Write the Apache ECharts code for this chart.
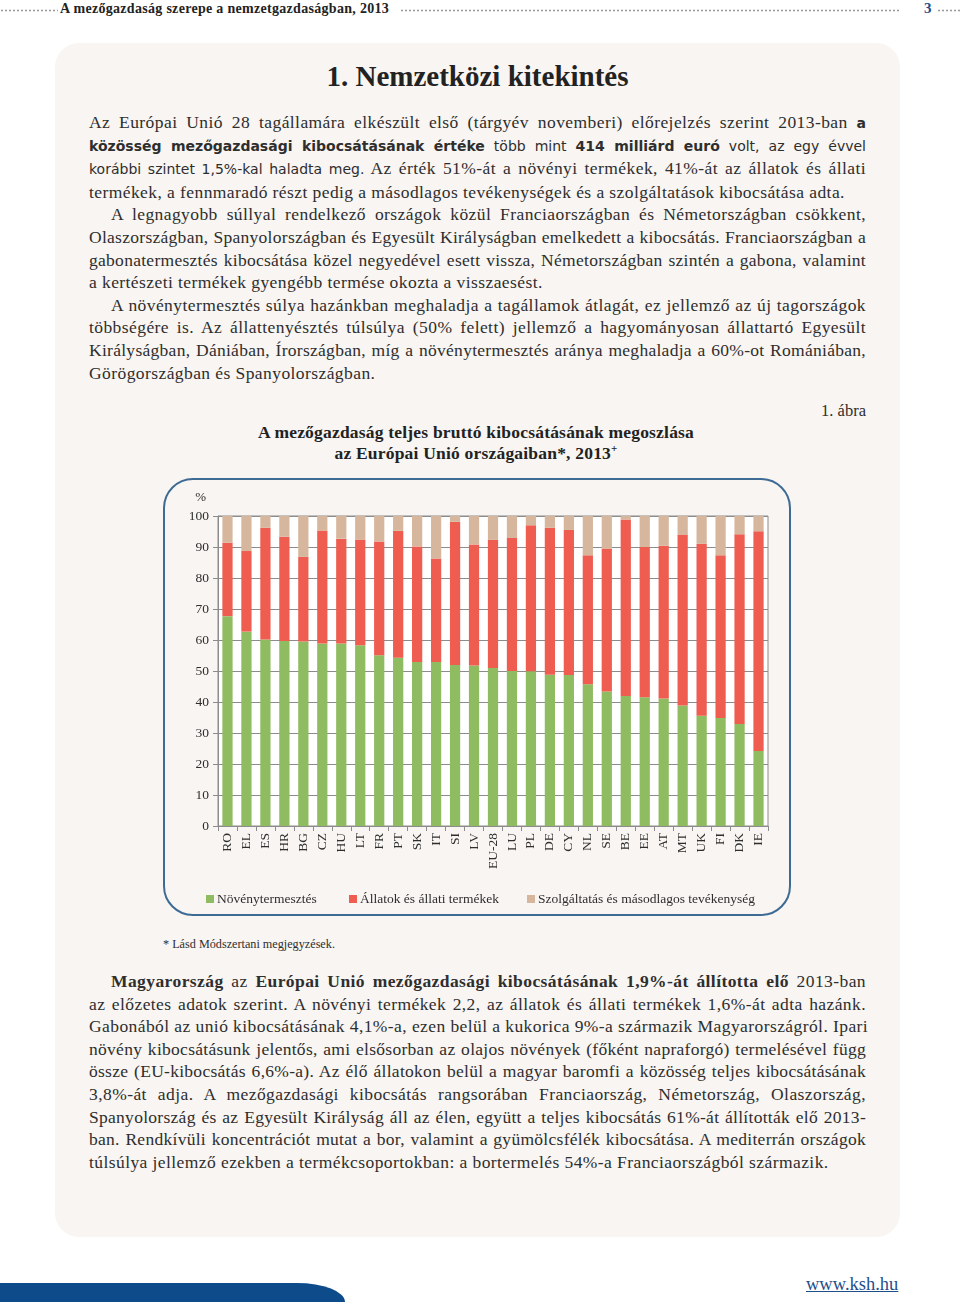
<!DOCTYPE html>
<html>
<head>
<meta charset="utf-8">
<script src="https://cdn.jsdelivr.net/npm/echarts@6/dist/echarts.min.js"></script>
<style>
  html,body{margin:0;padding:0;background:#fff;}
  body{width:960px;height:1308px;position:relative;overflow:hidden;font-family:"Liberation Serif",serif;color:#2e2e2e;}
  .abs{position:absolute;}
  .dots{position:absolute;height:3px;top:9px;background-image:radial-gradient(circle,#9a9a9a 0.9px,transparent 1.2px);background-size:4px 3px;background-repeat:repeat-x;}
  .card{position:absolute;left:55px;top:43px;width:845px;height:1194px;background:#f8f5f2;border-radius:24px;}
  .txt{position:absolute;left:89px;width:777px;font-size:17.5px;letter-spacing:0.42px;line-height:22.6px;}
  .ln{text-align:justify;text-align-last:justify;white-space:nowrap;}
  .ln.tight{letter-spacing:0.28px;}
  .ln.last{text-align-last:left;}
  .ind{text-indent:22px;}
  .sans{font-family:"DejaVu Sans",sans-serif;font-size:14px;letter-spacing:0;}
  #chart{position:absolute;left:163px;top:478px;width:624px;height:434px;border:2px solid #3e6b94;border-radius:30px;}
</style>
</head>
<body>
<div class="dots" style="left:0;width:58px;"></div>
<div class="abs" style="left:60px;top:1px;font-size:14px;font-weight:bold;color:#222;letter-spacing:0.3px;white-space:nowrap;">A mezőgazdaság szerepe a nemzetgazdaságban, 2013</div>
<div class="dots" style="left:400px;width:500px;"></div>
<div class="abs" style="left:924px;top:0px;font-size:15px;font-weight:bold;color:#1f4f8a;">3</div>
<div class="dots" style="left:937px;width:23px;"></div>

<div class="card"></div>

<div class="abs" style="left:55px;width:845px;top:60px;text-align:center;font-size:29px;font-weight:bold;color:#222;">1. Nemzetközi kitekintés</div>

<div class="txt" style="top:111px;">
  <div class="ln">Az Európai Unió 28 tagállamára elkészült első (tárgyév novemberi) előrejelzés szerint 2013-ban <b class="sans">a</b></div>
  <div class="ln sans"><b>közösség mezőgazdasági kibocsátásának értéke</b> több mint <b>414 milliárd euró</b> volt, az egy évvel</div>
  <div class="ln"><span class="sans">korábbi szintet 1,5%-kal haladta meg.</span> Az érték 51%-át a növényi termékek, 41%-át az állatok és állati</div>
  <div class="ln last">termékek, a fennmaradó részt pedig a másodlagos tevékenységek és a szolgáltatások kibocsátása adta.</div>
  <div class="ln ind">A legnagyobb súllyal rendelkező országok közül Franciaországban és Németországban csökkent,</div>
  <div class="ln tight">Olaszországban, Spanyolországban és Egyesült Királyságban emelkedett a kibocsátás. Franciaországban a</div>
  <div class="ln tight">gabonatermesztés kibocsátása közel negyedével esett vissza, Németországban szintén a gabona, valamint</div>
  <div class="ln last">a kertészeti termékek gyengébb termése okozta a visszaesést.</div>
  <div class="ln ind">A növénytermesztés súlya hazánkban meghaladja a tagállamok átlagát, ez jellemző az új tagországok</div>
  <div class="ln">többségére is. Az állattenyésztés túlsúlya (50% felett) jellemző a hagyományosan állattartó Egyesült</div>
  <div class="ln tight">Királyságban, Dániában, Írországban, míg a növénytermesztés aránya meghaladja a 60%-ot Romániában,</div>
  <div class="ln last">Görögországban és Spanyolországban.</div>
</div>

<div class="abs" style="left:700px;width:166px;top:401px;text-align:right;font-size:16.5px;">1. ábra</div>
<div class="abs" style="left:176px;width:600px;top:422px;text-align:center;font-size:17.5px;letter-spacing:0.2px;font-weight:bold;line-height:21px;color:#222;">A mezőgazdaság teljes bruttó kibocsátásának megoszlása<br>az Európai Unió országaiban*, 2013<sup style="font-size:11px;line-height:0;">+</sup></div>

<div id="chart"></div>

<div class="abs" style="left:163px;top:937px;font-size:12.2px;">* Lásd Módszertani megjegyzések.</div>

<div class="txt" style="top:970px;">
  <div class="ln ind"><b>Magyarország</b> az <b>Európai Unió mezőgazdasági kibocsátásának 1,9%-át állította elő</b> 2013-ban</div>
  <div class="ln">az előzetes adatok szerint. A növényi termékek 2,2, az állatok és állati termékek 1,6%-át adta hazánk.</div>
  <div class="ln">Gabonából az unió kibocsátásának 4,1%-a, ezen belül a kukorica 9%-a származik Magyarországról. Ipari</div>
  <div class="ln tight">növény kibocsátásunk jelentős, ami elsősorban az olajos növények (főként napraforgó) termelésével függ</div>
  <div class="ln tight">össze (EU-kibocsátás 6,6%-a). Az élő állatokon belül a magyar baromfi a közösség teljes kibocsátásának</div>
  <div class="ln">3,8%-át adja. A mezőgazdasági kibocsátás rangsorában Franciaország, Németország, Olaszország,</div>
  <div class="ln tight">Spanyolország és az Egyesült Királyság áll az élen, együtt a teljes kibocsátás 61%-át állították elő 2013-</div>
  <div class="ln tight">ban. Rendkívüli koncentrációt mutat a bor, valamint a gyümölcsfélék kibocsátása. A mediterrán országok</div>
  <div class="ln last">túlsúlya jellemző ezekben a termékcsoportokban: a bortermelés 54%-a Franciaországból származik.</div>
</div>

<div class="abs" style="left:0;top:1283px;width:345px;height:19px;background:#0d4b8a;border-top-right-radius:48px 19px;"></div>
<div class="abs" style="left:806px;top:1274px;font-size:18.5px;color:#1f4f8a;text-decoration:underline;">www.ksh.hu</div>

<script>
const categories = ['RO','EL','ES','HR','BG','CZ','HU','LT','FR','PT','SK','IT','SI','LV','EU-28','LU','PL','DE','CY','NL','SE','BE','EE','AT','MT','UK','FI','DK','IE'];
const cropProduction = [67.7,62.7,60.2,59.7,59.5,58.9,58.9,58.3,55.1,54.3,52.9,52.9,51.9,51.8,51.0,50.0,49.9,48.8,48.7,45.7,43.4,41.9,41.5,41.1,38.9,35.6,34.8,32.9,24.2];
const animalProducts = [23.7,26.0,36.0,33.6,27.3,36.4,33.8,34.1,36.7,40.9,37.3,33.4,46.2,39.0,41.3,42.9,47.1,47.4,46.8,41.6,46.1,57.0,48.5,49.3,55.1,55.4,52.5,61.2,70.9];
const servicesSecondary = [8.6,11.3,3.8,6.7,13.2,4.7,7.3,7.6,8.2,4.8,9.8,13.7,1.9,9.2,7.7,7.1,3.0,3.8,4.5,12.7,10.5,1.1,10.0,9.6,6.0,9.0,12.7,5.9,4.9];
const seriesNames = ['Növénytermesztés','Állatok és állati termékek','Szolgáltatás és másodlagos tevékenység'];
const yTicks = {min:0, max:100, interval:10};

const font = 'Liberation Serif';
const chart = echarts.init(document.getElementById('chart'), null, {renderer:'canvas'});
const colors = ['#8fbb61','#ef5c50','#d6b79e'];
const legendLefts = [36, 179, 357];
const values = [cropProduction, animalProducts, servicesSecondary];
chart.setOption({
  animation:false,
  color: colors,
  grid:{left:53, top:36, width:550, height:310, show:true, backgroundColor:'#ffffff', borderColor:'#8c8c8c', borderWidth:1},
  legend: seriesNames.map((n,i)=>({
    data:[n], left:legendLefts[i], top:407, icon:'rect', itemWidth:8, itemHeight:8,
    selectedMode:false,
    textStyle:{fontFamily:font, fontSize:13.5, color:'#2e2e2e', padding:[0,0,0,-2]}
  })),
  xAxis:{
    type:'category', data:categories,
    axisLine:{lineStyle:{color:'#8c8c8c'}},
    axisTick:{show:true, length:5, lineStyle:{color:'#8c8c8c'}},
    axisLabel:{rotate:90, interval:0, margin:7, fontFamily:font, fontSize:13.5, color:'#2e2e2e'}
  },
  yAxis:{
    type:'value', min:yTicks.min, max:yTicks.max, interval:yTicks.interval,
    name:'%', nameGap:12,
    nameTextStyle:{fontFamily:font, fontSize:13, color:'#2e2e2e', align:'right', padding:[0,12,0,0]},
    axisLine:{show:true, lineStyle:{color:'#8c8c8c'}},
    axisTick:{show:true, length:5, lineStyle:{color:'#8c8c8c'}},
    splitLine:{lineStyle:{color:'#8c8c8c', width:1}},
    axisLabel:{margin:9, fontFamily:font, fontSize:13.5, color:'#2e2e2e'}
  },
  series: seriesNames.map((n,i)=>({
    name:n, type:'bar', stack:'total', data:values[i], barWidth:'54%'
  }))
});
</script>
</body>
</html>
